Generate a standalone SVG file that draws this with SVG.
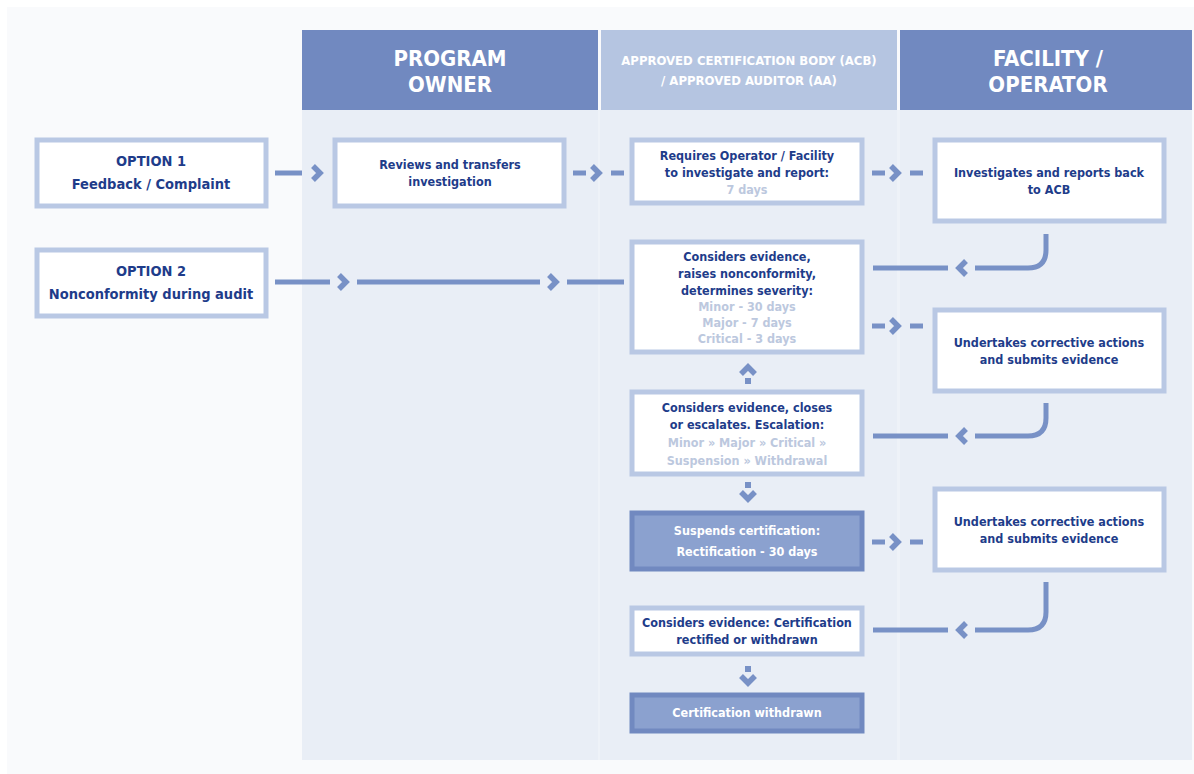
<svg xmlns="http://www.w3.org/2000/svg" width="1194" height="774" viewBox="0 0 1194 774">
<defs>
<style>
.box{fill:#ffffff;stroke:#b9c8e4;stroke-width:5}
.dark{fill:#8ba1cf;stroke:#7189c0;stroke-width:5}
.t{font-family:"DejaVu Sans Condensed","Liberation Sans Narrow","Liberation Sans",sans-serif;font-weight:bold;font-size:12.5px;fill:#1e3c8a;text-anchor:middle}
.opt{font-size:14.5px}
.lt{fill:#bcc8de}
.wt{fill:#ffffff}
.hd{font-family:"DejaVu Sans Condensed","Liberation Sans Narrow","Liberation Sans",sans-serif;font-weight:bold;fill:#ffffff;text-anchor:middle}
.ln{fill:none;stroke:#7891c6;stroke-width:5}
.ch{fill:none;stroke:#7891c6;stroke-width:5.5;stroke-linejoin:miter;stroke-miterlimit:4}
</style>
</defs>
<rect x="0" y="0" width="1194" height="774" fill="#ffffff"/>
<rect x="7" y="7" width="1187" height="767" fill="#f9fafc"/>
<g id="columns">
<rect x="302" y="110" width="890" height="650" fill="#eef2f8"/>
<rect x="302" y="110" width="296" height="650" fill="#e9eef6"/>
<rect x="600" y="110" width="297" height="650" fill="#e9eef6"/>
<rect x="900" y="110" width="292" height="650" fill="#e9eef6"/>
</g>
<g id="header-program-owner">
<rect x="302" y="30" width="296" height="80" fill="#7189c0"/>
<text class="hd" x="450" y="66" font-size="22">PROGRAM</text>
<text class="hd" x="450" y="92" font-size="22">OWNER</text>
</g>
<g id="header-acb">
<rect x="601" y="30" width="296" height="80" fill="#b5c5e1"/>
<text class="hd" x="749" y="65" font-size="13">APPROVED CERTIFICATION BODY (ACB)</text>
<text class="hd" x="749" y="85" font-size="13">/ APPROVED AUDITOR (AA)</text>
</g>
<g id="header-facility">
<rect x="900" y="30" width="292" height="80" fill="#7189c0"/>
<text class="hd" x="1048" y="66" font-size="22">FACILITY /</text>
<text class="hd" x="1048" y="92" font-size="22">OPERATOR</text>
</g>
<g id="connectors">
<line class="ln" x1="275" y1="173" x2="302" y2="173"/>
<polyline class="ch" points="313,166 320,173 313,180"/>
<line class="ln" x1="573" y1="173" x2="586" y2="173"/>
<polyline class="ch" points="592,166 599,173 592,180"/>
<line class="ln" x1="611" y1="173" x2="624" y2="173"/>
<line class="ln" x1="872" y1="173" x2="885" y2="173"/>
<polyline class="ch" points="891,166 898,173 891,180"/>
<line class="ln" x1="910" y1="173" x2="923" y2="173"/>
<line class="ln" x1="275" y1="282" x2="330" y2="282"/>
<polyline class="ch" points="339,275 346,282 339,289"/>
<line class="ln" x1="357" y1="282" x2="540" y2="282"/>
<polyline class="ch" points="549,275 556,282 549,289"/>
<line class="ln" x1="567" y1="282" x2="624" y2="282"/>
<path class="ln" d="M1046,234 V250 Q1046,268 1028,268 H975"/>
<polyline class="ch" points="966,261 959,268 966,275"/>
<line class="ln" x1="948" y1="268" x2="873" y2="268"/>
<line class="ln" x1="872" y1="326" x2="885" y2="326"/>
<polyline class="ch" points="891,319 898,326 891,333"/>
<line class="ln" x1="910" y1="326" x2="923" y2="326"/>
<path class="ln" d="M1046,403 V418 Q1046,436 1028,436 H975"/>
<polyline class="ch" points="966,429 959,436 966,443"/>
<line class="ln" x1="948" y1="436" x2="873" y2="436"/>
<polyline class="ch" points="741,374 748,367 755,374"/>
<rect x="745" y="378" width="6" height="6" fill="#7891c6"/>
<rect x="745" y="482" width="6" height="6" fill="#7891c6"/>
<polyline class="ch" points="741,492 748,499 755,492"/>
<line class="ln" x1="872" y1="542" x2="885" y2="542"/>
<polyline class="ch" points="891,535 898,542 891,549"/>
<line class="ln" x1="910" y1="542" x2="923" y2="542"/>
<path class="ln" d="M1046,582 V612 Q1046,630 1028,630 H975"/>
<polyline class="ch" points="966,623 959,630 966,637"/>
<line class="ln" x1="948" y1="630" x2="873" y2="630"/>
<rect x="745" y="666" width="6" height="6" fill="#7891c6"/>
<polyline class="ch" points="741,676 748,683 755,676"/>
</g>
<g id="option1">
<rect class="box" x="37" y="140" width="229" height="66"/>
<text class="t opt" x="151" y="166">OPTION 1</text>
<text class="t opt" x="151" y="189">Feedback / Complaint</text>
</g>
<g id="reviews">
<rect class="box" x="335" y="140" width="229" height="66"/>
<text class="t" x="450" y="169">Reviews and transfers</text>
<text class="t" x="450" y="186">investigation</text>
</g>
<g id="requires">
<rect class="box" x="632" y="140" width="230" height="63"/>
<text class="t" x="747" y="160">Requires Operator / Facility</text>
<text class="t" x="747" y="177">to investigate and report:</text>
<text class="t lt" x="747" y="194">7 days</text>
</g>
<g id="investigates">
<rect class="box" x="935" y="140" width="229" height="81"/>
<text class="t" x="1049" y="177">Investigates and reports back</text>
<text class="t" x="1049" y="194">to ACB</text>
</g>
<g id="option2">
<rect class="box" x="37" y="250" width="229" height="66"/>
<text class="t opt" x="151" y="276">OPTION 2</text>
<text class="t opt" x="151" y="299">Nonconformity during audit</text>
</g>
<g id="considers-severity">
<rect class="box" x="632" y="242" width="230" height="110"/>
<text class="t" x="747" y="261">Considers evidence,</text>
<text class="t" x="747" y="278">raises nonconformity,</text>
<text class="t" x="747" y="295">determines severity:</text>
<text class="t lt" x="747" y="311">Minor - 30 days</text>
<text class="t lt" x="747" y="327">Major - 7 days</text>
<text class="t lt" x="747" y="343">Critical - 3 days</text>
</g>
<g id="undertakes1">
<rect class="box" x="935" y="310" width="229" height="81"/>
<text class="t" x="1049" y="347">Undertakes corrective actions</text>
<text class="t" x="1049" y="364">and submits evidence</text>
</g>
<g id="considers-escalation">
<rect class="box" x="632" y="392" width="230" height="82"/>
<text class="t" x="747" y="412">Considers evidence, closes</text>
<text class="t" x="747" y="429">or escalates. Escalation:</text>
<text class="t lt" x="747" y="447">Minor » Major » Critical »</text>
<text class="t lt" x="747" y="465">Suspension » Withdrawal</text>
</g>
<g id="suspends">
<rect class="dark" x="632" y="513" width="230" height="56"/>
<text class="t wt" x="747" y="535">Suspends certification:</text>
<text class="t wt" x="747" y="556">Rectification - 30 days</text>
</g>
<g id="undertakes2">
<rect class="box" x="935" y="489" width="229" height="81"/>
<text class="t" x="1049" y="526">Undertakes corrective actions</text>
<text class="t" x="1049" y="543">and submits evidence</text>
</g>
<g id="considers-certification">
<rect class="box" x="632" y="608" width="230" height="46"/>
<text class="t" x="747" y="627">Considers evidence: Certification</text>
<text class="t" x="747" y="644">rectified or withdrawn</text>
</g>
<g id="withdrawn">
<rect class="dark" x="632" y="695" width="230" height="36"/>
<text class="t wt" x="747" y="717">Certification withdrawn</text>
</g>
</svg>
